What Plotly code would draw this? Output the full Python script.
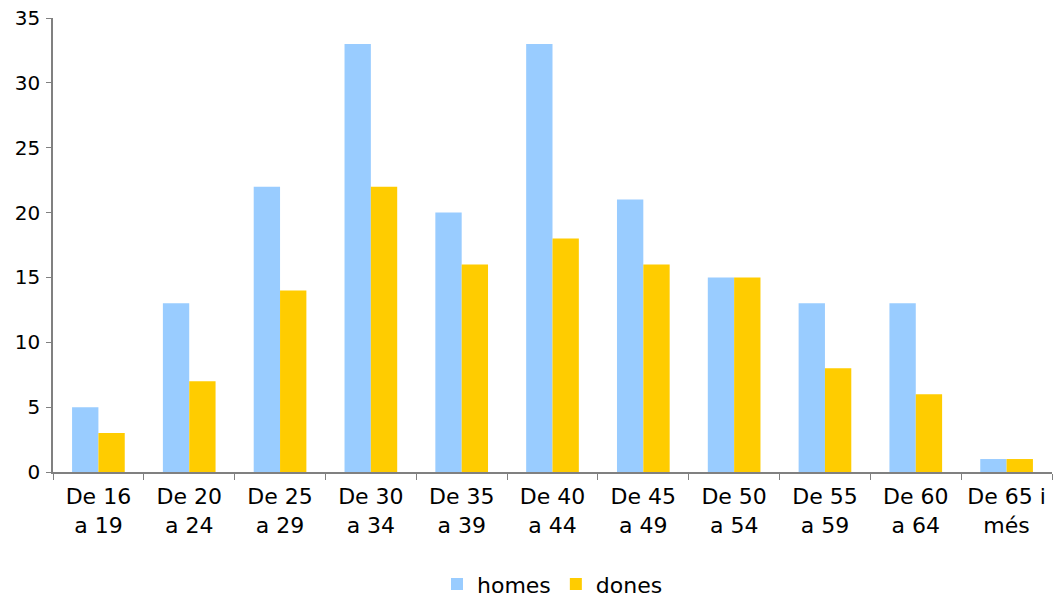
import plotly.graph_objects as go

categories = ["De 16<br>a 19", "De 20<br>a 24", "De 25<br>a 29", "De 30<br>a 34", "De 35<br>a 39",
              "De 40<br>a 44", "De 45<br>a 49", "De 50<br>a 54", "De 55<br>a 59", "De 60<br>a 64",
              "De 65 i<br>més"]
homes = [5, 13, 22, 33, 20, 33, 21, 15, 13, 13, 1]
dones = [3, 7, 14, 22, 16, 18, 16, 15, 8, 6, 1]
y_ticks = [0, 5, 10, 15, 20, 25, 30, 35]

FONT = "DejaVu Sans, Verdana, sans-serif"

fig = go.Figure()
fig.add_trace(go.Bar(x=categories, y=homes, name="homes",
                     marker=dict(color="#99CCFF", line=dict(width=0))))
fig.add_trace(go.Bar(x=categories, y=dones, name="dones",
                     marker=dict(color="#FFCC00", line=dict(width=0))))

fig.update_layout(
    width=1053, height=598,
    margin=dict(l=53, r=1, t=18, b=126, autoexpand=False),
    paper_bgcolor="white", plot_bgcolor="white",
    barmode="group", bargap=0.42, bargroupgap=0,
    font=dict(family=FONT, size=22, color="#000000"),
    legend=dict(orientation="h", x=0.5, xanchor="center", y=-0.247, yanchor="middle",
                font=dict(family=FONT, size=22), itemwidth=30, traceorder="normal",
                borderwidth=0),
    showlegend=True,
)
fig.update_xaxes(
    type="category", showline=True, linecolor="#808080", linewidth=1.5,
    ticks="outside", tickson="boundaries", ticklen=6, tickcolor="#808080",
    showgrid=False, tickfont=dict(family=FONT, size=22), ticklabelstandoff=4,
    automargin=False,
)
fig.update_yaxes(
    range=[0, 35], tickvals=y_ticks, showline=True, linecolor="#808080", linewidth=1.5,
    ticks="outside", ticklen=5, tickcolor="#808080", showgrid=False, zeroline=False,
    tickfont=dict(family=FONT, size=20), automargin=False, ticklabelstandoff=2,
)

fig.write_html("out.html", config={"displayModeBar": False})

# remove the default page margin so the figure sits at the top-left corner
with open("out.html", encoding="utf-8") as f:
    html = f.read()
html = html.replace("<body>", '<body style="margin:0;padding:0;">', 1)
with open("out.html", "w", encoding="utf-8") as f:
    f.write(html)
